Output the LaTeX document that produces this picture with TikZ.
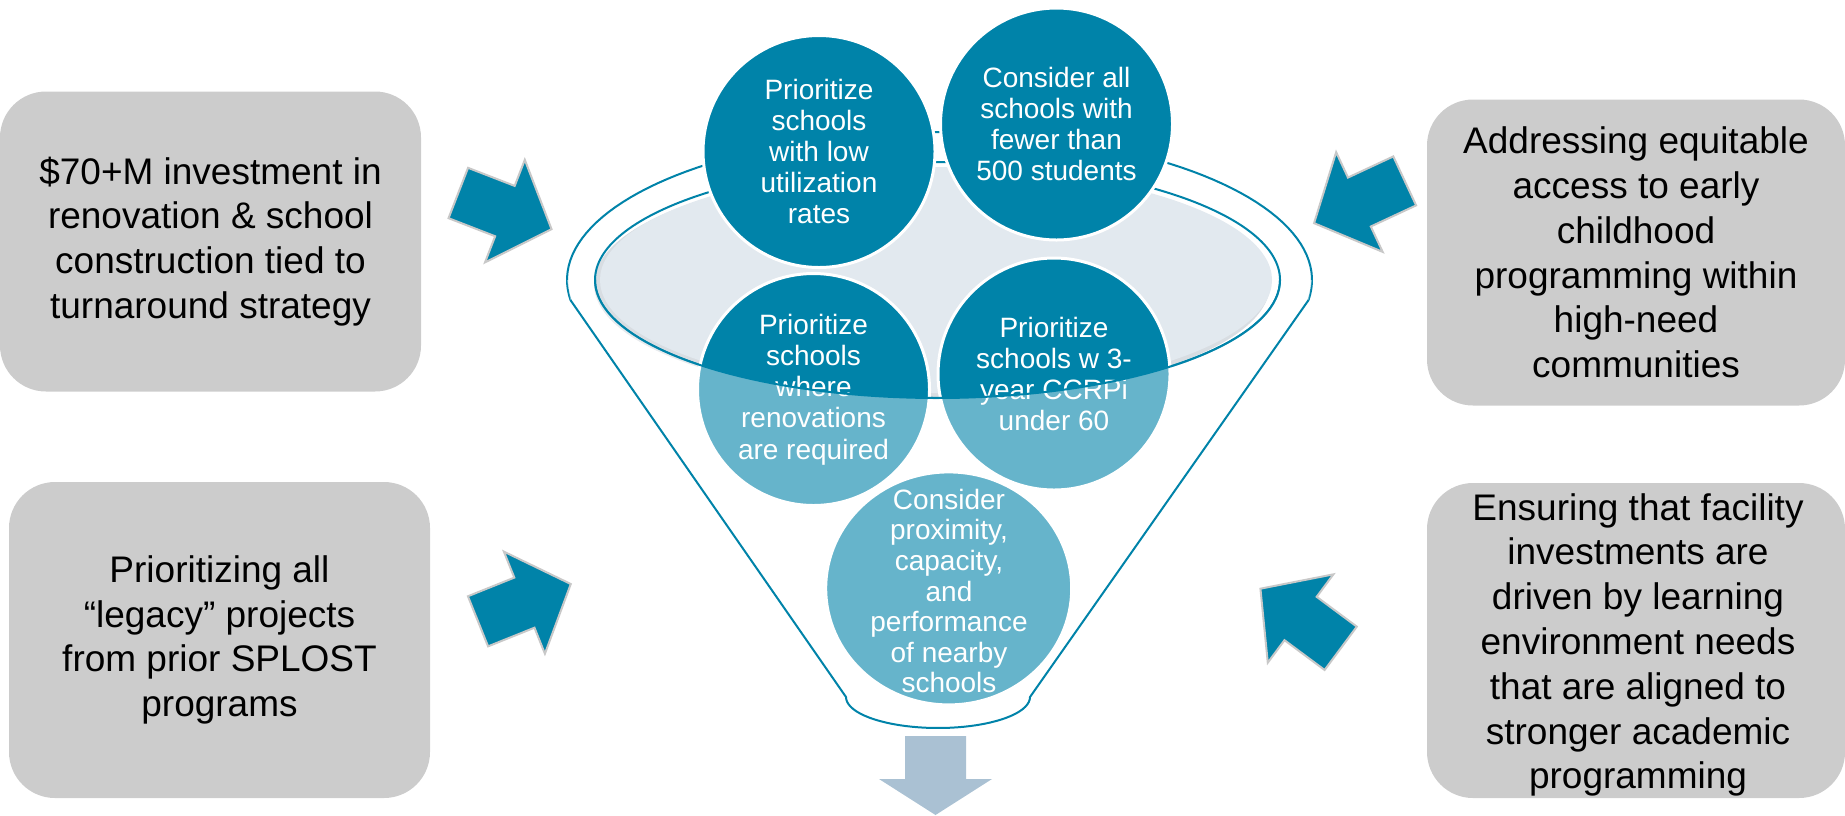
\documentclass[tikz,border=0pt]{standalone}
\usepackage{fontspec}
\setmainfont{Liberation Sans}
\usetikzlibrary{shapes.geometric}
\definecolor{tealdark}{HTML}{0083A9}
\definecolor{boxgray}{HTML}{CCCCCC}
\definecolor{ellfill}{HTML}{E2E9EF}
\definecolor{ellshadow}{HTML}{D8DDE2}
\definecolor{arrowedge}{HTML}{C8C8C8}
\definecolor{downarrow}{HTML}{AAC1D3}
\begin{document}
\begin{tikzpicture}[x=0.5pt,y=-0.5pt,
  graybox/.style={fill=boxgray, rounded corners=23pt, inner sep=0pt, align=center,
    text=black, font=\fontsize{18.5}{22.4}\selectfont},
  circ/.style={circle, fill=tealdark, draw=white, line width=1.5pt, minimum size=116pt,
    inner sep=0pt},
  circtext/.style={inner sep=0pt, align=center, text=white, font=\fontsize{14}{15.6}\selectfont},
  funnelline/.style={draw=tealdark, line width=1pt},
  tarrowstyle/.style={fill=tealdark, draw=arrowedge, line width=1pt, line join=miter},
  tarrow/.pic={\path[tarrowstyle] (0,-27)--(50,-27)--(50,-55)--(100,0)--(50,55)--(50,27)--(0,27)--cycle;}
]
\useasboundingbox (0,0) rectangle (1845,815);

% side boxes
\node[graybox, minimum width=210.5pt, minimum height=150pt] (b1) at (210.5,241.5)
  {\$70+M investment in\\renovation \& school\\construction tied to\\turnaround strategy};
\node[graybox, minimum width=210.5pt, minimum height=158pt] (b2) at (219.5,640)
  {Prioritizing all\\“legacy” projects\\from prior SPLOST\\programs};
\node[graybox, minimum width=209pt, minimum height=153pt] (b3) at (1636,252.5)
  {Addressing equitable\\access to early\\childhood\\programming within\\high-need\\communities};
\node[graybox, minimum width=209pt, minimum height=157.5pt] (b4) at (1636,640.5) {};
\node[graybox, fill=none] (b4t) at (1638,645)
  {Ensuring that facility\\investments are\\driven by learning\\environment needs\\that are aligned to\\stronger academic\\programming};

% block arrows
\pic[rotate=-21.2] at (458.3,193) {tarrow};
\pic[rotate=205] at (1404.7,180.9) {tarrow};
\pic[rotate=21.9] at (478,621.3) {tarrow};
\pic[rotate=143.4] at (1340.7,648.3) {tarrow};

% down arrow
\path[fill=downarrow] (905,736) -- (966,736) -- (966,779) -- (992,779) -- (935.5,815)
  -- (879,779) -- (905,779) -- cycle;

% funnel rim (upper)
\draw[funnelline] plot[domain=172.2:367.8, samples=90] ({939.5+372.5*cos(\x)},{280+148*sin(\x)});

% inner ellipse
\fill[ellshadow] (932,284) ellipse [x radius=169pt, y radius=57.5pt];
\fill[ellfill] (936,280) ellipse [x radius=168pt, y radius=56.5pt];
\draw[funnelline] (937.5,280) ellipse [x radius=171.25pt, y radius=59pt];

% circles
\node[circ] (c1) at (819,151.5) {};
\node[circ] (c2) at (1056.5,124) {};
\node[circ] (c3) at (813.5,389.5) {};
\node[circ] (c4) at (1054,374) {};
\node[circ, ellipse, minimum size=0pt, minimum width=123pt, minimum height=116.5pt] (c5) at (948.7,588.4) {};
\node[circtext] (t1) at (c1) {Prioritize\\schools\\with low\\utilization\\rates};
\node[circtext] (t2) at (c2) {Consider all\\schools with\\fewer than\\500 students};
\node[circtext] (t3) at (c3) {Prioritize\\schools\\where\\renovations\\are required};
\node[circtext] (t4) at (c4) {Prioritize\\schools w 3-\\year CCRPi\\under 60};
\node[circtext, font=\fontsize{14}{15.3}\selectfont] (t5) at (949,591) {Consider\\proximity,\\capacity,\\and\\performance\\of nearby\\schools};

% translucent funnel body
\fill[white, fill opacity=0.4] (595,280) -- (567,280) -- (570.4,300) -- (846,697)
  -- plot[domain=180:0, samples=40] ({938+92*cos(\x)},{697+31*sin(\x)})
  -- (1308.6,300) -- (1312,280) -- (1280,280)
  -- plot[domain=0:180, samples=80] ({937.5+342.5*cos(\x)},{280+118*sin(\x)}) -- cycle;

% funnel lower lines and inner rim front edge
\draw[funnelline] (570.4,300) -- (846,697)
  -- plot[domain=180:0, samples=40] ({938+92*cos(\x)},{697+31*sin(\x)}) -- (1308.6,300);
\draw[funnelline] plot[domain=0:180, samples=80] ({937.5+342.5*cos(\x)},{280+118*sin(\x)});
\end{tikzpicture}
\end{document}
